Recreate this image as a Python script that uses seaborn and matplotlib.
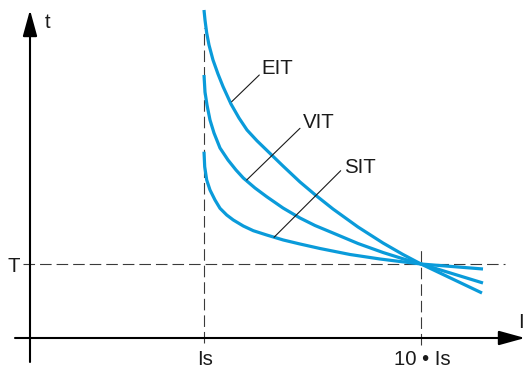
import matplotlib
matplotlib.use("Agg")
import matplotlib.pyplot as plt
import pandas as pd
import seaborn as sns

# Inverse-time trip curves (arbitrary units: current along x, time along y)
eit_current = [174, 175, 176.7, 179, 183, 188, 193, 201, 209, 217, 227, 237,
               253, 270, 286, 303, 328, 353, 373, 391, 452]
eit_time = [328, 318, 305, 293, 278, 264, 251.5, 234, 220, 208, 197.2, 187.5,
            172, 156, 142.5, 129, 111, 95, 83.5, 74, 45]

vit_current = [174, 175, 177, 180, 184, 190, 198, 206, 213.3, 225, 236.7, 253,
               270, 285, 303, 328, 353, 373, 391, 453]
vit_time = [263, 246, 233, 218, 205, 190, 178, 168, 160, 150, 141.3, 130,
            120, 112.5, 105, 94.5, 85.5, 79.2, 74, 55]

sit_current = [174, 174.7, 176.7, 180, 185, 190, 196.7, 203.3, 213.3, 223.3,
               236.7, 253.3, 270, 290, 320, 350, 370, 391, 453]
sit_time = [186.3, 171.3, 158, 148, 138, 129.7, 123, 118, 112, 107.3,
            103, 98, 94, 89.5, 83.5, 79, 76.5, 74, 69]

curve_names = ["EIT", "VIT", "SIT"]

# Reference points: pick-up current, 10 x pick-up, and time setting
is_current = 174
ten_is_current = 391
t_setting = 74

frames = []
for name, xs, ys in zip(curve_names,
                        [eit_current, vit_current, sit_current],
                        [eit_time, vit_time, sit_time]):
    frames.append(pd.DataFrame({"I": xs, "t": ys, "curve": name}))
df = pd.concat(frames, ignore_index=True)

sns.set_theme(style="white")
plt.rcParams["font.family"] = ["Liberation Sans", "DejaVu Sans"]

fig = plt.figure(figsize=(5.25, 3.7), dpi=100)
ax = fig.add_axes([0, 0, 1, 1])
ax.set_xlim(-30, 495)
ax.set_ylim(-32, 338)
ax.axis("off")

blue = "#0A9BDA"
ink = "#1a1a1a"
dash_col = "#3a3a3a"

# Guide lines
ax.plot([is_current, is_current], [-5, 310], color=dash_col, lw=0.8,
        dashes=(10.4, 4.5), zorder=1)
ax.plot([ten_is_current, ten_is_current], [-7, 90], color=dash_col, lw=0.8,
        dashes=(10.4, 4.5), zorder=1)
ax.plot([-7, 475], [t_setting, t_setting], color=dash_col, lw=0.8,
        dashes=(10.4, 4.5), zorder=1)

# Curves
sns.lineplot(data=df, x="I", y="t", hue="curve", sort=False,
             palette={n: blue for n in curve_names}, legend=False,
             lw=2.3, ax=ax, zorder=3)
for line in ax.get_lines()[-3:]:
    line.set_solid_capstyle("butt")
    line.set_solid_joinstyle("round")

# Axes with arrowheads
arrow = dict(arrowstyle="-|>,head_length=0.8,head_width=0.22", lw=1.5,
             color="black", shrinkA=0, shrinkB=0, mutation_scale=20)
ax.annotate("", xy=(0, 328), xytext=(0, -24), arrowprops=arrow)
ax.annotate("", xy=(495, 0), xytext=(-15, 0), arrowprops=arrow)

fs = 14.7
ax.text(15, 310, "t", fontsize=fs, color=ink, ha="left", va="baseline")
ax.text(488, 10, "I", fontsize=fs, color=ink, ha="left", va="baseline")
ax.text(-23, t_setting - 8, "T", fontsize=fs, color=ink, ha="left", va="baseline")
ax.text(is_current + 1, -27, "Is", fontsize=fs, color=ink, ha="center", va="baseline")
ax.text(ten_is_current + 1, -27, "10 • Is", fontsize=fs, color=ink, ha="center",
        va="baseline")

# Curve labels with leader lines
leader = dict(arrowstyle="-", lw=0.8, color=ink, shrinkA=0, shrinkB=0)
label_pos = {"EIT": ((231.7, 264), (201.7, 236.3), (229.3, 263)),
             "VIT": ((272.7, 209.7), (216.7, 158), (270, 209.7)),
             "SIT": ((314, 164.7), (244, 100.7), (310.7, 167.3))}
for name in curve_names:
    (tx, ty), (x0, y0), (x1, y1) = label_pos[name]
    ax.annotate("", xy=(x0, y0), xytext=(x1, y1), arrowprops=leader)
    ax.text(tx, ty, name, fontsize=fs, color=ink, ha="left", va="baseline")

fig.savefig("out.png", dpi=100)
